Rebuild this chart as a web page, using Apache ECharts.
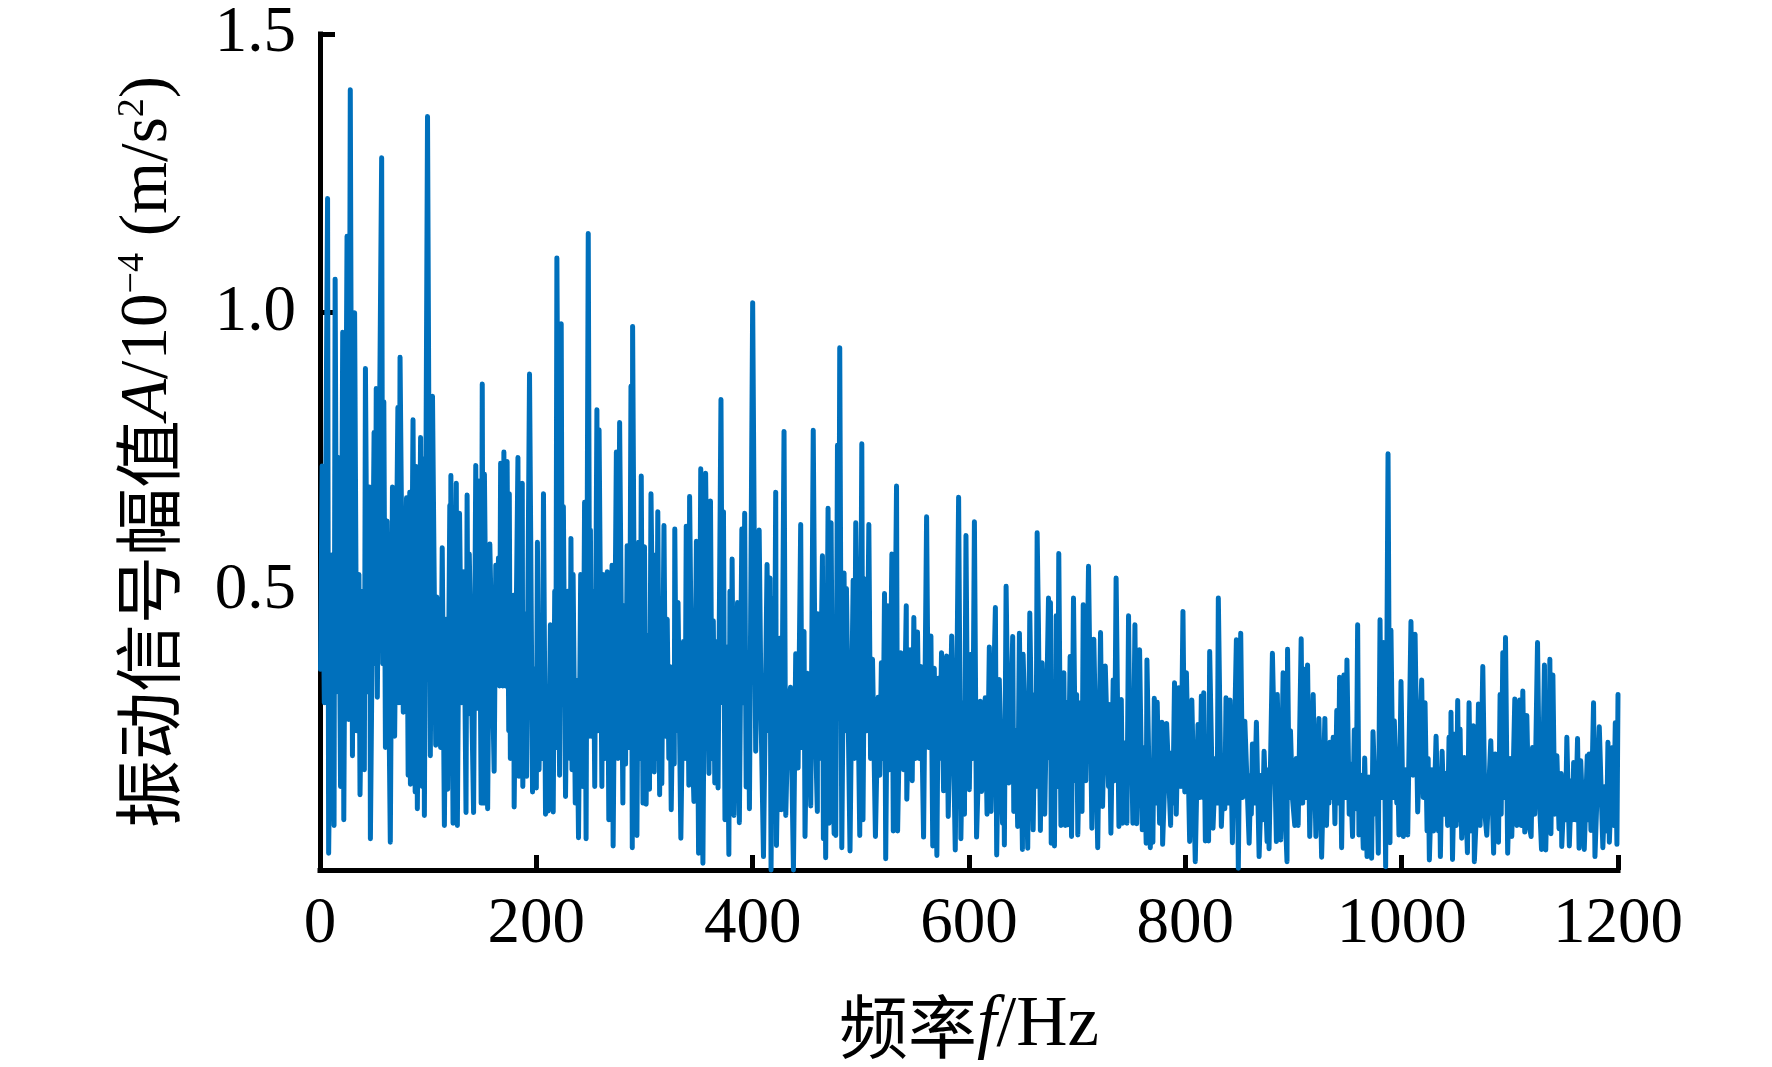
<!DOCTYPE html>
<html><head><meta charset="utf-8">
<style>html,body{margin:0;padding:0;background:#fff}#c{width:1772px;height:1067px}</style>
<script src="https://cdn.jsdelivr.net/npm/echarts@6/dist/echarts.min.js"></script>
</head><body><div id="c"></div>
<script>
const xTicks=[0,200,400,600,800,1000,1200];
const yTicks=[0,0.5,1.0,1.5];
const band0to150=[[0.5,.36],[2,.725],[4,.3],[7,1.205],[8,.03],[11,.565],[13,.08],[14,1.06],[15.5,.32],[17,.74],[19,.15],[21,.965],[22,.09],[25,1.137],[26.5,.27],[28,1.4],[30,.205],[32,1.0],[34,.25],[36,.53],[37,.135],[39.5,.5],[41,.18],[42,.9],[44,.32],[46,.687],[46.6,.056],[50,.785],[51,.37],[52,.864],[53,.31],[57,1.278],[58,.37],[59,.84],[60.5,.22],[62,.626],[65,.05],[67,.687],[69,.24],[72,.83],[73,.3],[74,.92],[77,.283],[80,.668],[81.5,.17],[83,.678],[83.6,.154],[86,.808],[88,.14],[89,.724],[90,.11],[93,.776],[94.5,.15],[96,.738],[96.5,.098],[99.4,1.352],[102,.205],[104,.85],[107,.224],[108,.49],[109,.3],[110,.477],[111.5,.22],[113,.578],[115,.08],[116.5,.45],[118,.145],[120,.654],[120.5,.3],[121,.708],[123,.084],[126,.694],[127,.08],[129,.64],[131,.3],[133,.535],[135,.103],[136,.673],[137,.28],[138,.567],[142,.103],[144,.726],[145.5,.29],[147,.698],[149,.12],[150,.872]];
const band150to300=[[151,.12],[152,.71],[155,.11],[157,.585],[161,.177],[162.5,.547],[164,.36],[165,.56],[166,.33],[167,.73],[169,.33],[170,.75],[171.5,.33],[173,.733],[174.5,.25],[175,.675],[176,.2],[179,.493],[179.5,.113],[183,.74],[184,.168],[187,.694],[187.5,.15],[190,.46],[191,.168],[193.7,.89],[196.5,.14],[198,.36],[200,.147],[201,.588],[202.5,.18],[204,.35],[205.5,.2],[206.6,.675],[208.5,.1],[210,.26],[211,.106],[213,.44],[215.6,.104],[217,.5],[218,.22],[219,1.098],[221.5,.17],[223,.98],[224,.33],[225,.652],[227,.132],[229,.5],[231,.2],[232,.595],[233,.18],[234,.53],[236,.12],[237.5,.34],[239,.058],[241,.53],[243,.15],[244.6,.66],[246,.056],[248,1.142],[249.5,.24],[250,.61],[251,.24],[252.5,.5],[254,.15],[256,.826],[257,.25],[258,.79],[260.6,.15],[261.5,.53],[263.5,.2],[265.6,.535],[267,.09],[269,.35],[270,.547],[271,.043],[274,.75],[275.5,.2],[277,.803],[280,.12],[281,.474],[282.5,.19],[284,.582],[286,.22],[287.5,.868],[288.7,.04],[289,.975],[291,.3],[293,.062],[294.6,.588],[296,.2],[297,.707],[298.6,.12]];
const band300to450=[[300,.58],[301.5,.118],[303,.42],[304.6,.145],[306,.675],[309,.176],[310,.565],[311,.2],[312.3,.643],[314,.135],[315,.42],[316,.155],[318,.618],[319.5,.24],[321,.45],[322.5,.2],[323.5,.365],[324.7,.108],[326.5,.36],[327.5,.19],[328,.612],[329.5,.25],[331,.48],[333.6,.057],[336,.41],[337.5,.2],[338.6,.617],[341,.152],[341.7,.67],[344,.24],[345.7,.123],[348,.59],[350,.03],[352,.72],[354,.012],[356.5,.712],[359.6,.173],[361,.662],[362.5,.2],[363.6,.447],[365,.156],[367,.41],[368,.147],[370.7,.844],[372,.3],[373,.643],[374.4,.09],[376.5,.4],[378,.028],[379,.5],[380,.2],[381,.558],[382.7,.098],[386,.48],[387.7,.085],[390,.612],[391.5,.3],[392.6,.64],[394,.149],[396,.36],[397,.11],[400,1.018],[402.8,.213],[406,.61],[408,.25],[410,.024],[413.3,.548],[415,.25],[416,.524],[417,0],[418.8,.487],[420,.2],[421.3,.678],[422,.044],[425,.416],[426.5,.108],[429,.787],[430.6,.098],[433,.3],[435,.328],[437.7,0],[439.8,.388],[442,.183],[444.4,.62],[445.5,.22],[447.5,.428],[448.4,.06]];
const band450to600=[[450.6,.353],[451.3,.2],[452,.34],[453.7,.115],[456,.789],[458,.25],[459.8,.105],[460,.46],[462,.2],[464.5,.564],[465.4,.056],[466.5,.33],[467.5,.022],[469.7,.649],[470.6,.084],[472.5,.623],[474,.2],[475.3,.065],[476,.3],[476.8,.062],[478.4,.762],[479.5,.3],[480.5,.937],[482.4,.04],[484.5,.533],[485.5,.25],[486.7,.505],[490,.034],[491.5,.3],[492.9,.52],[494,.2],[495.3,.623],[499,.062],[500.9,.765],[502,.09],[503.7,.522],[505.5,.25],[507.4,.62],[509,.2],[510.8,.378],[513.5,.06],[516,.31],[517.5,.17],[519,.372],[520.5,.2],[521.9,.496],[523,.02],[525,.474],[526.5,.18],[528.7,.567],[530,.07],[533,.689],[534,.07],[537,.39],[539.5,.18],[542,.474],[542.5,.127],[545.6,.395],[547.5,.16],[549,.453],[550.5,.2],[552.4,.427],[554,.2],[555.5,.365],[558,.059],[560.8,.634],[562.5,.22],[564.8,.42],[566.5,.043],[567.9,.362],[570.3,.026],[571.6,.344],[573,.2],[574.6,.39],[576.5,.142],[579.3,.384],[580.8,.096],[584,.42],[587.3,.036],[590.4,.669],[592.5,.056],[594.5,.3],[595.8,.1],[597.2,.6],[598.8,.2]];
const band600to750=[[600.3,.144],[602,.387],[603.5,.2],[605,.625],[607,.059],[610.5,.303],[611.7,.141],[615,.309],[616.7,.1],[618.8,.4],[620.4,.105],[624.4,.471],[625.6,.027],[628,.342],[631,.084],[632,.25],[632.7,.045],[634.3,.509],[636.7,.156],[638.5,.25],[640.4,.419],[641.4,.105],[643.5,.25],[645,.078],[646.6,.425],[649.4,.037],[650,.387],[651.9,.252],[654.3,.039],[656.2,.461],[659.3,.072],[661,.315],[662,.15],[663,.605],[664.2,.441],[666,.071],[667.6,.372],[670,.1],[673.5,.488],[675,.2],[675.3,.48],[676,.048],[678,.3],[679,.043],[680.6,.456],[682,.15],[683,.568],[685,.08],[687.7,.354],[689,.08],[690.5,.3],[691.4,.081],[693.5,.383],[694.8,.06],[696.6,.488],[698.5,.16],[699.5,.315],[700.6,.063],[703,.3],[704.5,.105],[705.6,.476],[708,.16],[710.5,.545],[713.6,.075],[715.4,.414],[719,.04],[721.6,.426],[723.5,.114],[726,.366],[729,.15],[729.5,.297],[731.2,.066],[733.3,.341],[734.5,.16],[736,.524],[738.6,.078],[740.8,.306],[742,.084],[744,.228],[746,.084],[747.5,.456],[749,.16]];
const band750to900=[[750,.258],[751.5,.084],[753.4,.44],[755,.083],[757.7,.395],[760.2,.072],[762,.22],[763.8,.048],[764.5,.377],[767.6,.04],[769.5,.144],[770,.05],[771.3,.308],[773,.12],[774,.301],[776.2,.084],[778.4,.265],[779,.046],[782.7,.263],[786.4,.08],[787,.21],[788.5,.12],[790,.336],[791.6,.1],[794,.327],[796,.15],[797.8,.464],[799.5,.14],[801,.354],[804,.051],[806,.305],[809.2,.015],[811.7,.261],[813.5,.13],[814.8,.312],[816,.13],[817,.318],[818.5,.052],[820.5,.2],[821.5,.052],[822.5,.392],[825.6,.075],[828,.2],[829.5,.12],[830.5,.488],[833.3,.078],[835.5,.2],[836.5,.11],[837.6,.309],[839.5,.12],[841.3,.305],[843.5,.049],[847.2,.413],[849,.003],[851.2,.425],[853,.13],[855,.267],[859,.048],[860.5,.17],[861,.1],[862,.226],[864,.12],[865.7,.265],[868.2,.024],[870.5,.17],[871.5,.09],[872.8,.213],[875.6,.051],[876.5,.18],[877.4,.038],[880.5,.389],[884.2,.051],[885,.315],[888.2,.054],[890.4,.354],[892,.12],[894,.015],[894.5,.396],[896,.13],[897.2,.25],[899,.13]];
const band900to1050=[[901.2,.08],[902.5,.2],[904.3,.08],[907.1,.415],[908.5,.12],[910,.36],[911.5,.13],[913,.368],[915,.06],[918.2,.315],[920.7,.06],[923.5,.272],[926,.023],[929,.272],[930.5,.08],[932,.2],[932.8,.12],[933.7,.229],[935,.13],[936.7,.238],[938.3,.083],[940,.286],[941.5,.12],[942.6,.346],[944.5,.04],[946.6,.35],[948,.13],[949.4,.377],[951.5,.1],[952.5,.19],[954.6,.06],[956.2,.251],[958,.11],[959.3,.44],[960.5,.063],[962.5,.17],[964.5,.039],[965.8,.201],[968,.024],[969.8,.167],[972.2,.021],[973.5,.248],[976,.1],[977,.18],[978.4,.03],[980,.449],[981.5,.13],[983.3,.408],[985.2,.006],[987.4,.747],[989.2,.049],[990.1,.43],[992,.13],[993.2,.268],[995.5,.12],[996.5,.17],[997.5,.063],[999.4,.338],[1001.5,.06],[1003.5,.18],[1005.6,.063],[1008.6,.446],[1010.5,.17],[1012.4,.423],[1014.8,.104],[1018.5,.341],[1020,.13],[1021.6,.3],[1023.5,.07],[1024.5,.2],[1025.6,.018],[1028,.18],[1029.5,.07],[1031.8,.24],[1034,.07],[1035,.17],[1035.8,.024],[1037.4,.213],[1039,.1],[1040.7,.173],[1042.5,.08],[1043.8,.238],[1045,.1],[1045.6,.283],[1047,.019],[1049.3,.244]];
const band1050to1200=[[1050.5,.08],[1051.8,.304],[1053,.09],[1054,.253],[1055.5,.057],[1058,.202],[1060.8,.031],[1062.3,.3],[1064,.07],[1066.3,.259],[1067.2,.015],[1069.5,.12],[1071,.298],[1072.5,.08],[1075,.365],[1077,.1],[1078.7,.0625],[1082.4,.232],[1085,.03],[1086.4,.208],[1089.5,.05],[1091,.315],[1092,.1],[1093.5,.39],[1094.8,.13],[1096,.417],[1098,.03],[1100.3,.2],[1101.8,.06],[1104.6,.307],[1106.5,.08],[1109.2,.305],[1110.5,.08],[1112,.321],[1113.8,.068],[1115.7,.277],[1117.8,.08],[1119.7,.06],[1121,.22],[1123,.1],[1125.6,.408],[1127.5,.12],[1129.3,.037],[1132,.368],[1133.2,.036],[1135,.2],[1136,.1],[1137,.378],[1138,.065],[1139.8,.35],[1141.5,.1],[1143.5,.205],[1145.5,.074],[1147.5,.173],[1148,.042],[1150.5,.16],[1151.5,.09],[1152.7,.238],[1155,.043],[1157,.16],[1158,.09],[1159,.193],[1160.8,.09],[1162.6,.236],[1164,.039],[1165.5,.196],[1168.8,.037],[1171.6,.205],[1172.5,.09],[1173.4,.208],[1175,.071],[1177.4,.3],[1178.7,.024],[1182.7,.257],[1186,.04],[1188,.15],[1189.5,.07],[1190.7,.229],[1192,.05],[1193,.049],[1195,.22],[1196,.08],[1197.5,.264],[1199,.046],[1200,.315]];
const spectrum=[].concat(band0to150,band150to300,band300to450,band450to600,band600to750,band750to900,band900to1050,band1050to1200);
const serif='"Liberation Serif","Times New Roman",serif', cjk='"Noto Sans CJK SC",sans-serif';
const axisCommon={
  axisLine:{show:true,onZero:false,lineStyle:{color:'#000',width:5,cap:'square'}},
  axisTick:{show:true,inside:true,length:15,lineStyle:{color:'#000',width:5}},
  splitLine:{show:false}
};
const chart=echarts.init(document.getElementById('c'));
chart.setOption({
  animation:false,backgroundColor:'#fff',
  grid:{left:320,right:154,top:34,bottom:192.5,containLabel:false},
  xAxis:Object.assign({type:'value',min:xTicks[0],max:xTicks[xTicks.length-1],interval:200,
    axisLabel:{color:'#000',fontFamily:serif,fontSize:65,margin:22,showMinLabel:true,showMaxLabel:true,formatter:v=>String(v)},
    nameLocation:'middle',nameGap:121,
    name:'{z|频率}{i|f}{r|/Hz}',
    nameTextStyle:{rich:{z:{fontFamily:cjk,fontSize:69,color:'#000'},i:{fontFamily:serif,fontStyle:'italic',fontSize:71,color:'#000'},r:{fontFamily:serif,fontSize:71,color:'#000'}}}
  },axisCommon),
  yAxis:Object.assign({type:'value',min:yTicks[0],max:yTicks[yTicks.length-1],interval:0.5,
    axisLabel:{color:'#000',fontFamily:serif,fontSize:65,margin:24,padding:[18,0,0,0],formatter:v=>v===0?'':v.toFixed(1)},
    nameLocation:'middle',nameRotate:90,nameGap:138,
    name:'{z|振动信号幅值}{i|A}{r|/10}{s|−4}{r| (m/s}{s|2}{r|)}',
    nameTextStyle:{rich:{z:{fontFamily:cjk,fontSize:68,color:'#000'},i:{fontFamily:serif,fontStyle:'italic',fontSize:67,color:'#000'},r:{fontFamily:serif,fontSize:67,color:'#000'},s:{fontFamily:serif,fontSize:38,color:'#000',verticalAlign:'top'}}}
  },axisCommon),
  series:[{type:'line',data:spectrum,showSymbol:false,symbol:'none',sampling:null,smooth:false,clip:false,
    lineStyle:{color:'#0070BC',width:5,join:'round',cap:'round'}}]
});
</script></body></html>
